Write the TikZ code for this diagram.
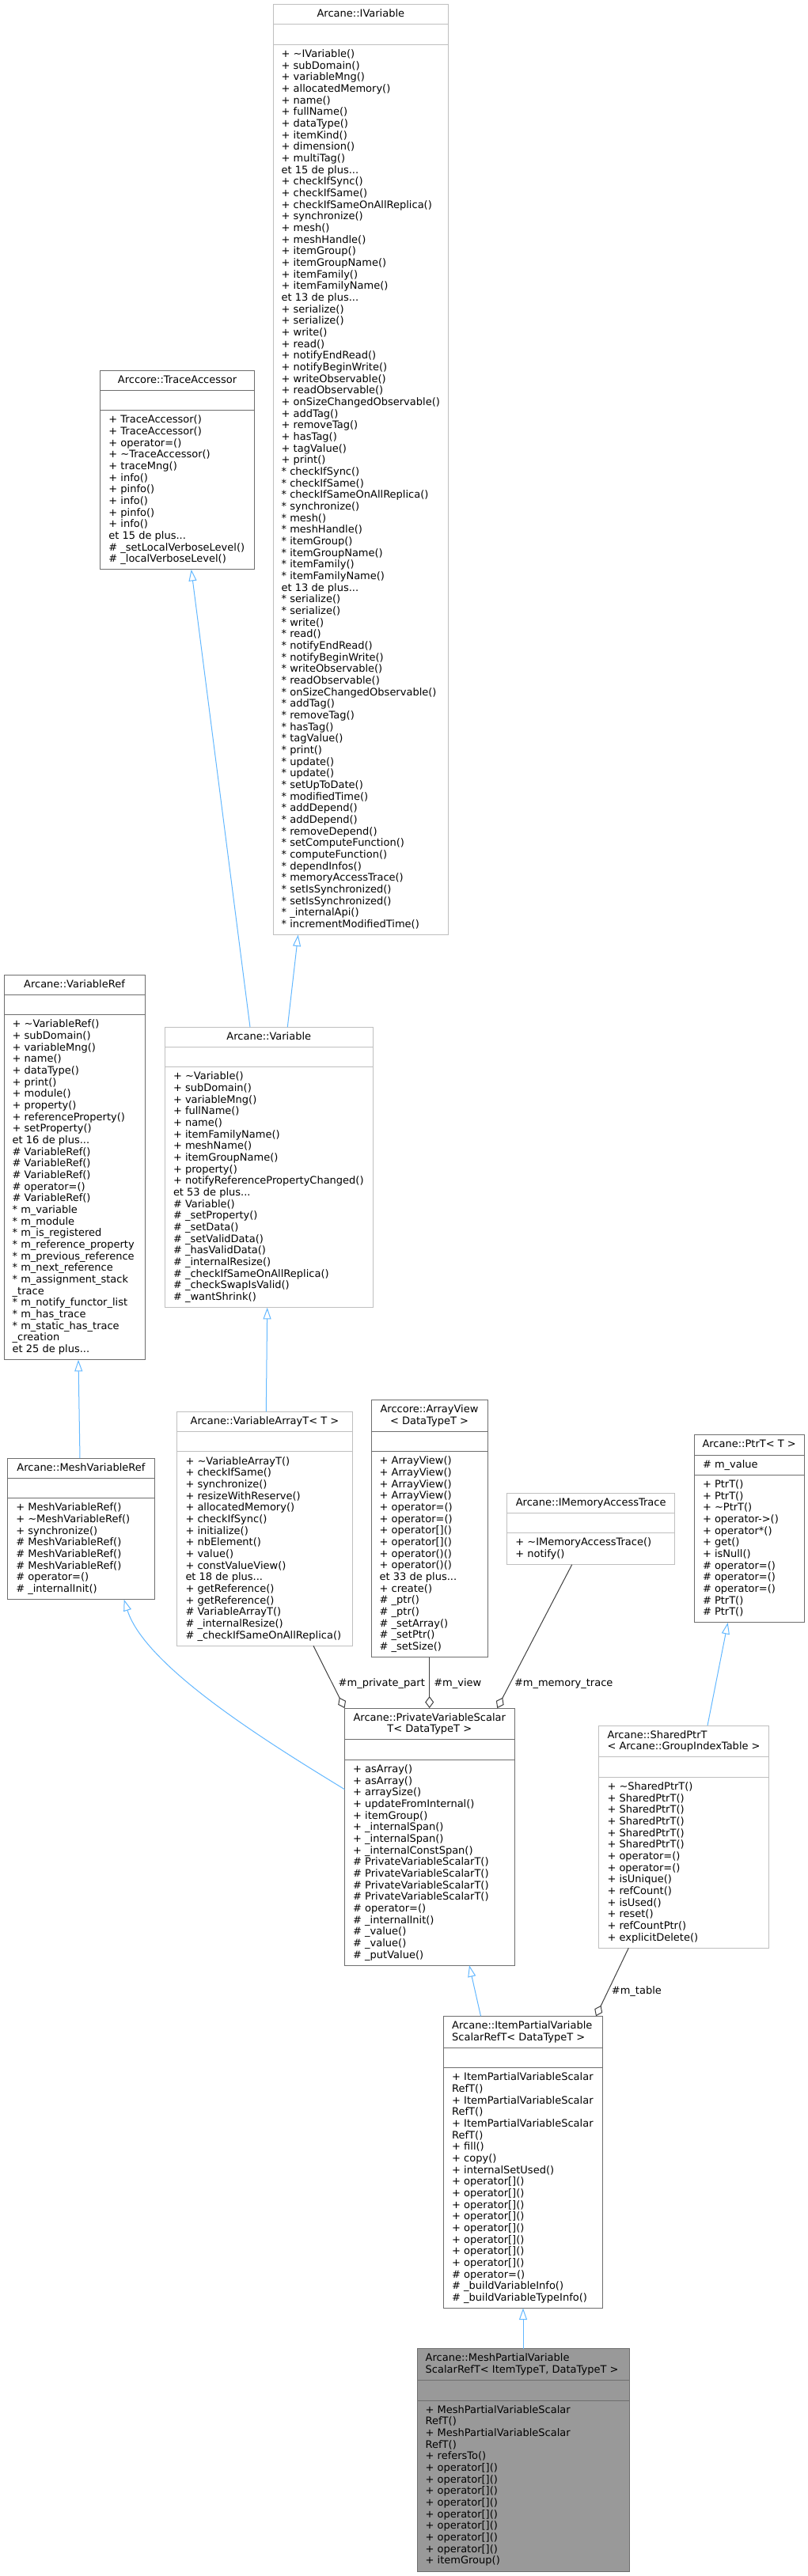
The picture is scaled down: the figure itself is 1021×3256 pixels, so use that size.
\documentclass[tikz,border=0pt]{standalone}
\usepackage{fontspec}
\setmainfont{DejaVu Sans}
\usetikzlibrary{arrows.meta,calc}
\definecolor{ltb}{HTML}{BFBFBF}
\definecolor{dkb}{HTML}{6E6E6E}
\definecolor{curf}{HTML}{999999}
\definecolor{inh}{HTML}{63B8FF}
\definecolor{agg}{HTML}{404040}
\newcommand{\strt}{\rule{0pt}{9pt}}
\newcommand{\tld}{\textasciitilde}
\tikzset{
  txt/.style={font=\fontsize{9.75pt}{11pt}\selectfont, inner sep=0pt, outer sep=0pt},
  lst/.style={txt, align=left, anchor=north west},
  ttlc/.style={txt, align=center, anchor=north},
  ttll/.style={txt, align=left, anchor=north west},
  lbl/.style={txt, anchor=base west},
  ltbox/.style={draw=ltb, line width=0.75pt, fill=white, inner sep=0pt, outer sep=0pt},
  dkbox/.style={draw=dkb, line width=0.75pt, fill=white, inner sep=0pt, outer sep=0pt},
  curbox/.style={draw=dkb, line width=0.75pt, fill=curf, inner sep=0pt, outer sep=0pt},
  ltline/.style={draw=ltb, line width=0.75pt},
  dkline/.style={draw=dkb, line width=0.75pt},
  curline/.style={draw=dkb, line width=0.75pt},
  inhl/.style={draw=inh, line width=0.75pt, -{Triangle[open,length=10.9pt,width=7.5pt]}},
  aggl/.style={draw=agg, line width=0.75pt, -{Diamond[open,length=11.25pt,width=8.25pt]}}
}
% #1 name, #2 x, #3 y, #4 width, #5 title lines, #6 list lines, #7 kind (lt/dk/cur)
\newcommand{\clsbox}[7]{%
  \pgfmathsetmacro\hA{10.6+#5*14.667}%
  \pgfmathsetmacro\hB{\hA+25.3}%
  \pgfmathsetmacro\hT{\hB+10.6+#6*14.667}%
  \node[#7box,anchor=north west,minimum width=#4*0.75pt,minimum height=\hT*0.75pt] (#1) at (#2,#3) {};
  \coordinate (#1-a) at ($(#1.north west)+(0,\hA)$);
  \coordinate (#1-b) at ($(#1.north west)+(0,\hB)$);
  \draw[#7line] (#1-a) -- ++(#4,0);
  \draw[#7line] (#1-b) -- ++(#4,0);
}
\begin{document}
\begin{tikzpicture}[x=0.75pt,y=-0.75pt]
\fill[white] (0,0) rectangle (1021,3256);
\useasboundingbox (0,0) rectangle (1021,3256);

% ---------- IVariable
\clsbox{ivar}{345}{5.7}{221.7}{1}{76}{lt}
\node[ttlc] (ivar-t) at ($(ivar.north)+(0,4.1)$) {\strt Arcane::IVariable};
\node[lst] (ivar-l) at ($(ivar-b)+(10.7,4.1)$) {\strt + \tld IVariable()\\
+ subDomain()\\
+ variableMng()\\
+ allocatedMemory()\\
+ name()\\
+ fullName()\\
+ dataType()\\
+ itemKind()\\
+ dimension()\\
+ multiTag()\\
et 15 de plus...\\
+ checkIfSync()\\
+ checkIfSame()\\
+ checkIfSameOnAllReplica()\\
+ synchronize()\\
+ mesh()\\
+ meshHandle()\\
+ itemGroup()\\
+ itemGroupName()\\
+ itemFamily()\\
+ itemFamilyName()\\
et 13 de plus...\\
+ serialize()\\
+ serialize()\\
+ write()\\
+ read()\\
+ notifyEndRead()\\
+ notifyBeginWrite()\\
+ writeObservable()\\
+ readObservable()\\
+ onSizeChangedObservable()\\
+ addTag()\\
+ removeTag()\\
+ hasTag()\\
+ tagValue()\\
+ print()\\
{*} checkIfSync()\\
{*} checkIfSame()\\
{*} checkIfSameOnAllReplica()\\
{*} synchronize()\\
{*} mesh()\\
{*} meshHandle()\\
{*} itemGroup()\\
{*} itemGroupName()\\
{*} itemFamily()\\
{*} itemFamilyName()\\
et 13 de plus...\\
{*} serialize()\\
{*} serialize()\\
{*} write()\\
{*} read()\\
{*} notifyEndRead()\\
{*} notifyBeginWrite()\\
{*} writeObservable()\\
{*} readObservable()\\
{*} onSizeChangedObservable()\\
{*} addTag()\\
{*} removeTag()\\
{*} hasTag()\\
{*} tagValue()\\
{*} print()\\
{*} update()\\
{*} update()\\
{*} setUpToDate()\\
{*} modifiedTime()\\
{*} addDepend()\\
{*} addDepend()\\
{*} removeDepend()\\
{*} setComputeFunction()\\
{*} computeFunction()\\
{*} dependInfos()\\
{*} memoryAccessTrace()\\
{*} setIsSynchronized()\\
{*} setIsSynchronized()\\
{*} \_internalApi()\\
{*} incrementModifiedTime()};

% ---------- TraceAccessor
\clsbox{trace}{126.7}{468}{194.7}{1}{13}{dk}
\node[ttlc] (trace-t) at ($(trace.north)+(0,4.1)$) {\strt Arccore::TraceAccessor};
\node[lst] (trace-l) at ($(trace-b)+(10.7,4.1)$) {\strt + TraceAccessor()\\
+ TraceAccessor()\\
+ operator=()\\
+ \tld TraceAccessor()\\
+ traceMng()\\
+ info()\\
+ pinfo()\\
+ info()\\
+ pinfo()\\
+ info()\\
et 15 de plus...\\
\# \_setLocalVerboseLevel()\\
\# \_localVerboseLevel()};

% ---------- VariableRef
\clsbox{vref}{5}{1232.3}{178}{1}{29}{dk}
\node[ttlc] (vref-t) at ($(vref.north)+(0,4.1)$) {\strt Arcane::VariableRef};
\node[lst] (vref-l) at ($(vref-b)+(10.7,4.1)$) {\strt + \tld VariableRef()\\
+ subDomain()\\
+ variableMng()\\
+ name()\\
+ dataType()\\
+ print()\\
+ module()\\
+ property()\\
+ referenceProperty()\\
+ setProperty()\\
et 16 de plus...\\
\# VariableRef()\\
\# VariableRef()\\
\# VariableRef()\\
\# operator=()\\
\# VariableRef()\\
{*} m\_variable\\
{*} m\_module\\
{*} m\_is\_registered\\
{*} m\_reference\_property\\
{*} m\_previous\_reference\\
{*} m\_next\_reference\\
{*} m\_assignment\_stack\\
\_trace\\
{*} m\_notify\_functor\_list\\
{*} m\_has\_trace\\
{*} m\_static\_has\_trace\\
\_creation\\
et 25 de plus...};

% ---------- Variable
\clsbox{var}{208.3}{1298.3}{263}{1}{20}{lt}
\node[ttlc] (var-t) at ($(var.north)+(0,4.1)$) {\strt Arcane::Variable};
\node[lst] (var-l) at ($(var-b)+(10.7,4.1)$) {\strt + \tld Variable()\\
+ subDomain()\\
+ variableMng()\\
+ fullName()\\
+ name()\\
+ itemFamilyName()\\
+ meshName()\\
+ itemGroupName()\\
+ property()\\
+ notifyReferencePropertyChanged()\\
et 53 de plus...\\
\# Variable()\\
\# \_setProperty()\\
\# \_setData()\\
\# \_setValidData()\\
\# \_hasValidData()\\
\# \_internalResize()\\
\# \_checkIfSameOnAllReplica()\\
\# \_checkSwapIsValid()\\
\# \_wantShrink()};

% ---------- MeshVariableRef
\clsbox{mvref}{9.6}{1843.2}{185.6}{1}{8}{dk}
\node[ttlc] (mvref-t) at ($(mvref.north)+(0,4.1)$) {\strt Arcane::MeshVariableRef};
\node[lst] (mvref-l) at ($(mvref-b)+(10.7,4.1)$) {\strt + MeshVariableRef()\\
+ \tld MeshVariableRef()\\
+ synchronize()\\
\# MeshVariableRef()\\
\# MeshVariableRef()\\
\# MeshVariableRef()\\
\# operator=()\\
\# \_internalInit()};

% ---------- VariableArrayT
\clsbox{varr}{223.8}{1784.4}{221.4}{1}{16}{lt}
\node[ttlc] (varr-t) at ($(varr.north)+(0,4.1)$) {\strt Arcane::VariableArrayT< T >};
\node[lst] (varr-l) at ($(varr-b)+(10.7,4.1)$) {\strt + \tld VariableArrayT()\\
+ checkIfSame()\\
+ synchronize()\\
+ resizeWithReserve()\\
+ allocatedMemory()\\
+ checkIfSync()\\
+ initialize()\\
+ nbElement()\\
+ value()\\
+ constValueView()\\
et 18 de plus...\\
+ getReference()\\
+ getReference()\\
\# VariableArrayT()\\
\# \_internalResize()\\
\# \_checkIfSameOnAllReplica()};

% ---------- ArrayView
\clsbox{aview}{469}{1769.6}{147}{2}{17}{dk}
\node[ttlc] (aview-t) at ($(aview.north)+(0,4.1)$) {\strt Arccore::ArrayView\\< DataTypeT >};
\node[lst] (aview-l) at ($(aview-b)+(10.7,4.1)$) {\strt + ArrayView()\\
+ ArrayView()\\
+ ArrayView()\\
+ ArrayView()\\
+ operator=()\\
+ operator=()\\
+ operator[]()\\
+ operator[]()\\
+ operator()()\\
+ operator()()\\
et 33 de plus...\\
+ create()\\
\# \_ptr()\\
\# \_ptr()\\
\# \_setArray()\\
\# \_setPtr()\\
\# \_setSize()};

% ---------- IMemoryAccessTrace
\clsbox{imat}{640.7}{1887.2}{212}{1}{2}{lt}
\node[ttlc] (imat-t) at ($(imat.north)+(0,4.1)$) {\strt Arcane::IMemoryAccessTrace};
\node[lst] (imat-l) at ($(imat-b)+(10.7,4.1)$) {\strt + \tld IMemoryAccessTrace()\\
+ notify()};

% ---------- PtrT
\clsbox{ptr}{877.3}{1813.8}{138.7}{1}{12}{dk}
\node[ttlc] (ptr-t) at ($(ptr.north)+(0,4.1)$) {\strt Arcane::PtrT< T >};
\node[lst] (ptr-m) at ($(ptr-a)+(10.7,4.1)$) {\strt \# m\_value};
\node[lst] (ptr-l) at ($(ptr-b)+(10.7,4.1)$) {\strt + PtrT()\\
+ PtrT()\\
+ \tld PtrT()\\
+ operator->()\\
+ operator*()\\
+ get()\\
+ isNull()\\
\# operator=()\\
\# operator=()\\
\# operator=()\\
\# PtrT()\\
\# PtrT()};

% ---------- PrivateVariableScalarT
\clsbox{priv}{435.5}{2159}{214.5}{2}{17}{dk}
\node[ttlc] (priv-t) at ($(priv.north)+(0,4.1)$) {\strt Arcane::PrivateVariableScalar\\T< DataTypeT >};
\node[lst] (priv-l) at ($(priv-b)+(10.7,4.1)$) {\strt + asArray()\\
+ asArray()\\
+ arraySize()\\
+ updateFromInternal()\\
+ itemGroup()\\
+ \_internalSpan()\\
+ \_internalSpan()\\
+ \_internalConstSpan()\\
\# PrivateVariableScalarT()\\
\# PrivateVariableScalarT()\\
\# PrivateVariableScalarT()\\
\# PrivateVariableScalarT()\\
\# operator=()\\
\# \_internalInit()\\
\# \_value()\\
\# \_value()\\
\# \_putValue()};

% ---------- SharedPtrT
\clsbox{sptr}{756.8}{2181}{214.7}{2}{14}{lt}
\node[ttll] (sptr-t) at ($(sptr.north west)+(10.7,4.1)$) {\strt Arcane::SharedPtrT\\< Arcane::GroupIndexTable >};
\node[lst] (sptr-l) at ($(sptr-b)+(10.7,4.1)$) {\strt + \tld SharedPtrT()\\
+ SharedPtrT()\\
+ SharedPtrT()\\
+ SharedPtrT()\\
+ SharedPtrT()\\
+ SharedPtrT()\\
+ operator=()\\
+ operator=()\\
+ isUnique()\\
+ refCount()\\
+ isUsed()\\
+ reset()\\
+ refCountPtr()\\
+ explicitDelete()};

% ---------- ItemPartialVariableScalarRefT
\clsbox{ipart}{560.8}{2548.3}{201}{2}{20}{dk}
\node[ttll] (ipart-t) at ($(ipart.north west)+(10.4,4.1)$) {\strt Arcane::ItemPartialVariable\\ScalarRefT< DataTypeT >};
\node[lst] (ipart-l) at ($(ipart-b)+(10.4,4.1)$) {\strt + ItemPartialVariableScalar\\
RefT()\\
+ ItemPartialVariableScalar\\
RefT()\\
+ ItemPartialVariableScalar\\
RefT()\\
+ fill()\\
+ copy()\\
+ internalSetUsed()\\
+ operator[]()\\
+ operator[]()\\
+ operator[]()\\
+ operator[]()\\
+ operator[]()\\
+ operator[]()\\
+ operator[]()\\
+ operator[]()\\
\# operator=()\\
\# \_buildVariableInfo()\\
\# \_buildVariableTypeInfo()};

% ---------- MeshPartialVariableScalarRefT
\clsbox{mpart}{527.3}{2968.8}{268}{2}{14}{cur}
\node[ttll] (mpart-t) at ($(mpart.north west)+(10.4,4.1)$) {\strt Arcane::MeshPartialVariable\\ScalarRefT< ItemTypeT, DataTypeT >};
\node[lst] (mpart-l) at ($(mpart-b)+(10.4,4.1)$) {\strt + MeshPartialVariableScalar\\
RefT()\\
+ MeshPartialVariableScalar\\
RefT()\\
+ refersTo()\\
+ operator[]()\\
+ operator[]()\\
+ operator[]()\\
+ operator[]()\\
+ operator[]()\\
+ operator[]()\\
+ operator[]()\\
+ operator[]()\\
+ itemGroup()};

% ---------- inheritance edges
\draw[inhl] ($(var.north west)+(155,0)$) -- ($(ivar.south west)+(31.7,0)$);
\draw[inhl] ($(var.north west)+(107.7,0)$) -- ($(trace.south west)+(115,0)$);
\draw[inhl] ($(mvref.north west)+(91.4,0)$) -- ($(vref.south west)+(94,0)$);
\draw[inhl] ($(varr.north west)+(112.5,0)$) -- ($(var.south west)+(129.4,0)$);
\draw[inhl] ($(priv.north west)+(0,102.7)$) .. controls +(-93.5,-57.2) and ($(mvref.south west)+(174.1,85.5)$) .. ($(mvref.south west)+(147.1,0)$);
\draw[inhl] ($(sptr.north west)+(137.2,0)$) -- ($(ptr.south west)+(42.4,0)$);
\draw[inhl] ($(ipart.north west)+(46.7,0)$) -- ($(priv.south west)+(157.5,0)$);
\draw[inhl] ($(mpart.north west)+(133.7,0)$) -- ($(ipart.south west)+(100.2,0)$);

% ---------- aggregation edges
\draw[aggl] ($(varr.south west)+(172.2,0)$) -- (priv.north west);
\draw[aggl] ($(aview.south west)+(73.7,0)$) -- ($(priv.north west)+(107.2,0)$);
\draw[aggl] ($(imat.south west)+(82,0)$) -- ($(priv.north west)+(192.8,0)$);
\draw[aggl] ($(sptr.south west)+(37.5,0)$) -- ($(ipart.north west)+(192.2,0)$);

% ---------- edge labels
\node[lbl] (lpp) at (427.7,2131.2) {\#m\_private\_part};
\node[lbl] (lmv) at (548.3,2131.2) {\#m\_view};
\node[lbl] (lmt) at (650,2131.2) {\#m\_memory\_trace};
\node[lbl] (ltb) at (772.9,2520.2) {\#m\_table};
\end{tikzpicture}
\end{document}
